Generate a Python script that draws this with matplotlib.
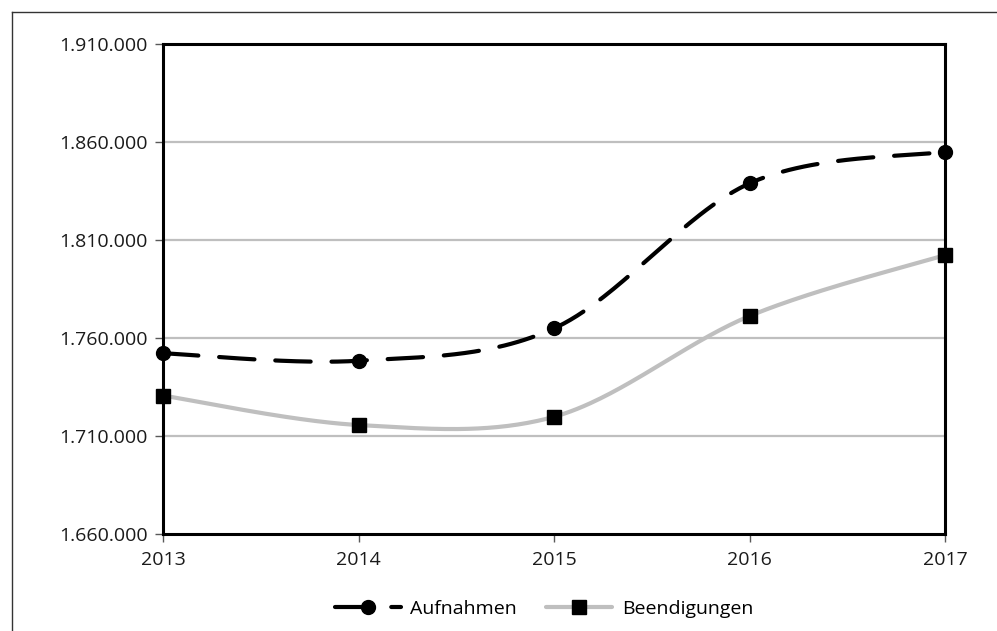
import numpy as np
import matplotlib
matplotlib.use("Agg")
import matplotlib.pyplot as plt
from matplotlib.lines import Line2D
from matplotlib.ticker import FuncFormatter

plt.rcParams['font.family'] = ['Open Sans', 'DejaVu Sans']

years = [2013, 2014, 2015, 2016, 2017]
aufnahmen = [1752200, 1748400, 1764900, 1838900, 1855000]
beendigungen = [1730600, 1715600, 1719800, 1771200, 1802300]
y_ticks = [1660000, 1710000, 1760000, 1810000, 1860000, 1910000]


def smooth(xs, ys, n=60):
    """Catmull-Rom style Bezier smoothing through every point."""
    xs = np.asarray(xs, float)
    ys = np.asarray(ys, float)
    px = np.concatenate([[xs[0]], xs, [xs[-1]]])
    py = np.concatenate([[ys[0]], ys, [ys[-1]]])
    out_x, out_y = [], []
    t = np.linspace(0, 1, n)
    for i in range(1, len(px) - 2):
        p0 = np.array([px[i - 1], py[i - 1]])
        p1 = np.array([px[i], py[i]])
        p2 = np.array([px[i + 1], py[i + 1]])
        p3 = np.array([px[i + 2], py[i + 2]])
        c1 = p1 + (p2 - p0) / 6.0
        c2 = p2 - (p3 - p1) / 6.0
        b = ((1 - t) ** 3)[:, None] * p1 + (3 * (1 - t) ** 2 * t)[:, None] * c1 \
            + (3 * (1 - t) * t ** 2)[:, None] * c2 + (t ** 3)[:, None] * p2
        if i > 1:
            b = b[1:]
        out_x.extend(b[:, 0])
        out_y.extend(b[:, 1])
    return np.array(out_x), np.array(out_y)


fig = plt.figure(figsize=(9.97, 6.31), dpi=100)
ax = fig.add_axes([163 / 997, 97 / 631, (945 - 163) / 997, (534 - 44) / 631])

ax.set_xlim(years[0], years[-1])
ax.set_ylim(y_ticks[0], y_ticks[-1])
ax.set_yticks(y_ticks)
ax.set_xticks(years)
ax.yaxis.set_major_formatter(FuncFormatter(lambda v, p: f"{v:,.0f}".replace(",", ".")))
ax.xaxis.set_major_formatter(FuncFormatter(lambda v, p: f"{int(v)}"))

for v in y_ticks[1:-1]:
    ax.axhline(v, color='#BFBFBF', lw=1.6, zorder=1)

lw = 3.0
sx, sy = smooth(years, beendigungen)
ax.plot(sx, sy, color='#BFBFBF', lw=lw, solid_capstyle='round', zorder=2, clip_on=False)
ax.plot(years, beendigungen, ls='none', marker='s', ms=10, color='black', zorder=4, clip_on=False)

ax.plot(*smooth(years, aufnahmen), color='black', lw=lw, dashes=(8.5, 5),
        dash_capstyle='round', zorder=3, clip_on=False)
ax.plot(years, aufnahmen, ls='none', marker='o', ms=10, color='black', zorder=5, clip_on=False)

for s in ax.spines.values():
    s.set_linewidth(2.2)
    s.set_color('black')
    s.set_zorder(6)

ax.tick_params(axis='both', direction='out', length=6, width=1, color='#595959',
               labelsize=14, labelcolor='#1a1a1a', pad=5)
ax.tick_params(axis='x', pad=6)

handles = [
    Line2D([], [], color='black', lw=lw, dashes=(8.5, 5), dash_capstyle='round',
           marker='o', ms=10),
    Line2D([], [], color='#BFBFBF', lw=lw, solid_capstyle='round',
           marker='s', ms=10, markerfacecolor='black', markeredgecolor='black'),
]
fig.legend(handles, ['Aufnahmen', 'Beendigungen'], loc='center', ncol=2,
           bbox_to_anchor=(544 / 997, 22 / 631), frameon=False, fontsize=14,
           handlelength=3.4, columnspacing=1.5, handletextpad=0.5)

# outer frame lines
fig.add_artist(Line2D([12 / 997, 12 / 997], [0, 1 - 12 / 631], color='#333333',
                      lw=1.0, transform=fig.transFigure))
fig.add_artist(Line2D([12 / 997, 1], [1 - 12 / 631, 1 - 12 / 631], color='#333333',
                      lw=1.0, transform=fig.transFigure))

fig.savefig('out.png', dpi=100)
